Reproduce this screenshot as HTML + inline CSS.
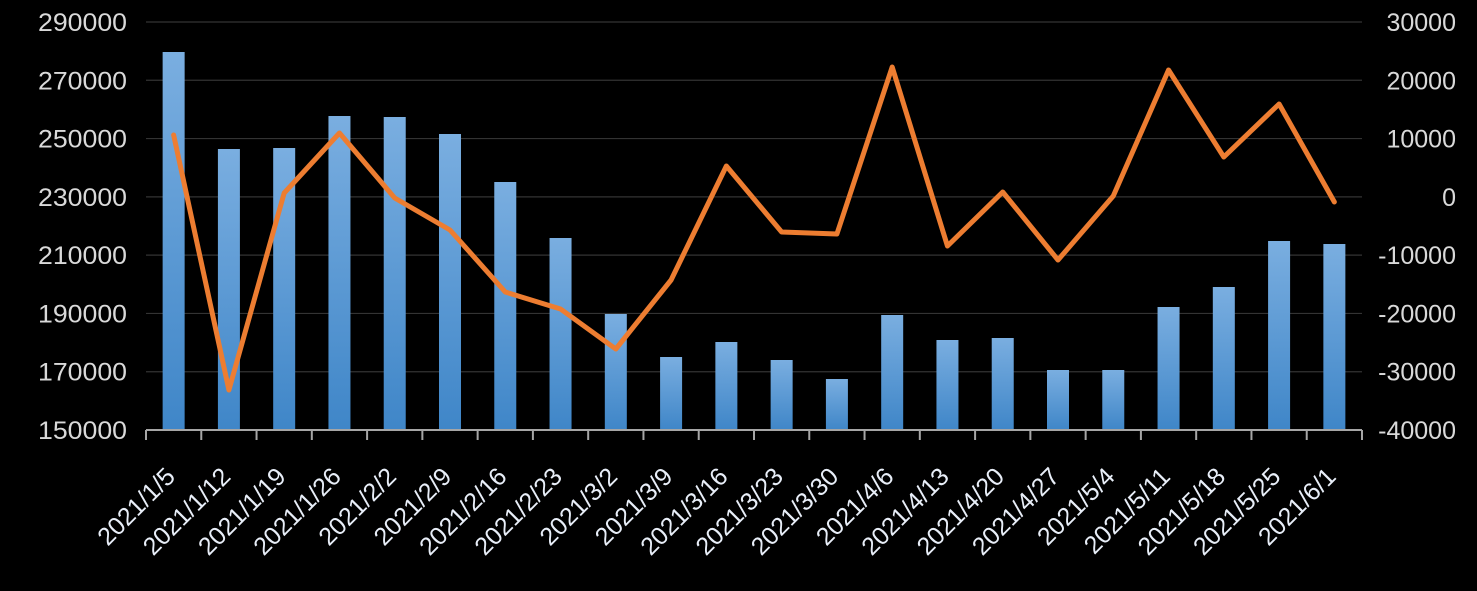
<!DOCTYPE html>
<html><head><style>
html,body{margin:0;padding:0;background:#000;}
svg{display:block;}
text{font-family:"Liberation Sans","DejaVu Sans",sans-serif;font-size:25px;fill:#d9d9d9;}
</style></head><body>
<svg id="c" width="1477" height="591" xmlns="http://www.w3.org/2000/svg">
<defs><linearGradient id="g" x1="0" y1="0" x2="0" y2="1"><stop offset="0" stop-color="#7aaee0"/><stop offset="1" stop-color="#3f86c8"/></linearGradient></defs>
</svg>
<script>
(function(){
const s=document.getElementById('c');const NS='http://www.w3.org/2000/svg';
function el(t,a,txt){const e=document.createElementNS(NS,t);for(const k in a)e.setAttribute(k,a[k]);if(txt)e.textContent=txt;s.appendChild(e);return e;}
const X0=146,X1=1362,YT=22,YB=430,N=22,W=(X1-X0)/N;
for(let i=0;i<8;i++){const y=YT+i*(YB-YT)/7;
 if(i<7)el('line',{x1:X0,x2:X1,y1:y,y2:y,stroke:'#333',"stroke-width":1.2});
 el('text',{x:127,y:y+9,"text-anchor":"end",textLength:89,lengthAdjust:'spacingAndGlyphs'},String(290000-i*20000));
 el('text',{x:1456,y:y+9,"text-anchor":"end"},String(30000-i*10000));}
const bars=[52,149,148,116,117,134,182,238,314,357,342,360,379,315,340,338,370,370,307,287,241,244];
const line=[135,390,193,133,198,230,292,309,349,280,166,232,234,67,246,192,260,196,70,157,104,202];
const labels=['2021/1/5','2021/1/12','2021/1/19','2021/1/26','2021/2/2','2021/2/9','2021/2/16','2021/2/23','2021/3/2','2021/3/9','2021/3/16','2021/3/23','2021/3/30','2021/4/6','2021/4/13','2021/4/20','2021/4/27','2021/5/4','2021/5/11','2021/5/18','2021/5/25','2021/6/1'];
let pts=[];
for(let i=0;i<N;i++){const cx=X0+W*(i+0.5);
 el('rect',{x:cx-11,y:bars[i],width:22,height:YB-bars[i],fill:'url(#g)'});
 pts.push(cx+','+line[i]);
 const tx=cx+3,ty=478;
 el('text',{x:tx,y:ty,"text-anchor":"end",transform:'rotate(-45 '+tx+' '+ty+')',style:'fill:#e8eef8;font-size:25px'},labels[i]);}
el('line',{x1:X0,x2:X1,y1:YB,y2:YB,stroke:'#a6a6a6',"stroke-width":2});
for(let i=0;i<=N;i++){const x=X0+W*i;el('line',{x1:x,x2:x,y1:YB,y2:YB+10,stroke:'#a6a6a6',"stroke-width":2});}
el('polyline',{points:pts.join(' '),fill:'none',stroke:'#ed7d31',"stroke-width":5,"stroke-linejoin":"round","stroke-linecap":"round"});
})();
</script>
</body></html>
